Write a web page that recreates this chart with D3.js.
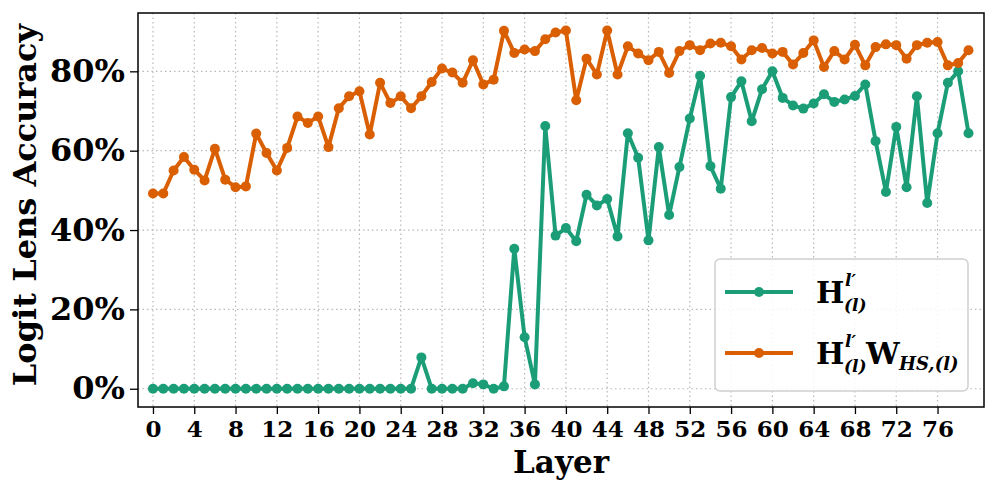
<!DOCTYPE html>
<html>
<head>
<meta charset="utf-8">
<script src="https://cdn.jsdelivr.net/npm/d3@7"></script>
<style>
  html, body { margin: 0; padding: 0; background: #fff; }
  svg text { font-family: "DejaVu Serif", serif; font-weight: bold; }
</style>
</head>
<body>
<svg id="chart" width="997" height="493"></svg>
<script>
// ---- data ----
const layers = d3.range(0, 80);
const xTickValues = [0, 4, 8, 12, 16, 20, 24, 28, 32, 36, 40, 44, 48, 52, 56, 60, 64, 68, 72, 76];
const yTickValues = [0, 20, 40, 60, 80];

const accH = [
  0, 0, 0, 0, 0, 0, 0, 0, 0, 0,
  0, 0, 0, 0, 0, 0, 0, 0, 0, 0,
  0, 0, 0, 0, 0, 0, 7.9, 0, 0, 0,
  0, 1.4, 1.1, 0, 0.6, 35.3, 13.0, 1.1, 66.2, 38.6,
  40.5, 37.2, 48.9, 46.2, 47.8, 38.4, 64.4, 58.2, 37.4, 60.9,
  43.8, 55.9, 68.1, 78.9, 56.1, 50.4, 73.5, 77.5, 67.4, 75.5,
  80.0, 73.3, 71.4, 70.6, 71.9, 74.2, 72.3, 72.9, 73.8, 76.7,
  62.4, 49.6, 66.0, 50.8, 73.7, 46.8, 64.4, 77.1, 80.0, 64.4
];
const accHW = [
  49.2, 49.2, 55.0, 58.4, 55.2, 52.5, 60.5, 52.7, 50.8, 51.0,
  64.3, 59.4, 55.0, 60.7, 68.6, 67.0, 68.6, 60.9, 70.7, 73.7,
  75.0, 64.1, 77.1, 72.0, 73.7, 70.7, 73.7, 77.3, 80.7, 79.7,
  77.1, 82.8, 76.7, 77.9, 90.2, 84.6, 85.5, 85.1, 88.1, 89.8,
  90.3, 72.7, 83.2, 79.2, 90.3, 79.2, 86.3, 84.5, 82.8, 84.9,
  79.6, 85.1, 86.6, 85.3, 87.0, 87.2, 86.3, 83.0, 85.3, 85.9,
  84.5, 84.9, 81.7, 84.6, 87.8, 81.1, 85.1, 83.0, 86.7, 81.5,
  86.1, 86.8, 86.6, 83.2, 86.6, 87.2, 87.4, 81.5, 82.1, 85.3
];
const colorH = "#1b9e77";
const colorHW = "#d95f02";

// ---- layout ----
const svg = d3.select("#chart");
const L = 138, R = 984, T = 13, B = 407;

const x = d3.scaleLinear().domain([-1.45, 80.5]).range([L, R]);
const y = d3.scaleLinear().domain([-4.6, 94.7]).range([B, T]);

// grid
const grid = svg.append("g");
grid.selectAll("line.vx").data(xTickValues).join("line")
  .attr("x1", d => x(d)).attr("x2", d => x(d)).attr("y1", T).attr("y2", B)
  .attr("stroke", "#b8b8b8").attr("stroke-width", 1.2).attr("stroke-dasharray", "1.5,3");
grid.selectAll("line.hy").data(yTickValues).join("line")
  .attr("y1", d => y(d)).attr("y2", d => y(d)).attr("x1", L).attr("x2", R)
  .attr("stroke", "#b8b8b8").attr("stroke-width", 1.2).attr("stroke-dasharray", "1.5,3");

// axes
const xAxis = d3.axisBottom(x).tickValues(xTickValues).tickSize(7).tickPadding(7).tickFormat(d3.format("d"));
const gx = svg.append("g").attr("transform", `translate(0,${B})`).call(xAxis);
gx.select(".domain").remove();
gx.selectAll(".tick line").attr("stroke", "#000").attr("stroke-width", 1.3);
gx.selectAll(".tick text").attr("font-size", 23).attr("fill", "#000")
  .attr("font-family", "DejaVu Serif").attr("font-weight", "bold");

const yAxis = d3.axisLeft(y).tickValues(yTickValues).tickSize(8).tickPadding(5).tickFormat(d => d + "%");
const gy = svg.append("g").attr("transform", `translate(${L},0)`).call(yAxis);
gy.select(".domain").remove();
gy.selectAll(".tick line").attr("stroke", "#000").attr("stroke-width", 1.3);
gy.selectAll(".tick text").attr("font-size", 32).attr("fill", "#000")
  .attr("font-family", "DejaVu Serif").attr("font-weight", "bold");

// series
const line = d3.line().x((d, i) => x(layers[i])).y(d => y(d));
function drawSeries(vals, color) {
  const g = svg.append("g");
  g.append("path").datum(vals).attr("d", line)
    .attr("fill", "none").attr("stroke", color).attr("stroke-width", 4)
    .attr("stroke-linejoin", "round");
  g.selectAll("circle").data(vals).join("circle")
    .attr("cx", (d, i) => x(layers[i])).attr("cy", d => y(d)).attr("r", 5)
    .attr("fill", color);
}
drawSeries(accH, colorH);
drawSeries(accHW, colorHW);

// frame
svg.append("rect").attr("x", L).attr("y", T).attr("width", R - L).attr("height", B - T)
  .attr("fill", "none").attr("stroke", "#000").attr("stroke-width", 1.5);

// axis labels
svg.append("text").attr("x", (L + R) / 2).attr("y", 473).attr("text-anchor", "middle")
  .attr("font-size", 31).attr("fill", "#000").text("Layer");
svg.append("text").attr("transform", `translate(36,205) rotate(-90)`)
  .attr("text-anchor", "middle").attr("font-size", 32).attr("fill", "#000").text("Logit Lens Accuracy");

// legend
const lg = svg.append("g");
lg.append("rect").attr("x", 715).attr("y", 259).attr("width", 253).attr("height", 132)
  .attr("rx", 5).attr("fill", "#fff").attr("fill-opacity", 0.85)
  .attr("stroke", "#d0d0d0").attr("stroke-width", 1.5);
const legendItems = [
  { color: colorH, yl: 292, base: 303 },
  { color: colorHW, yl: 353, base: 364 }
];
legendItems.forEach(it => {
  lg.append("line").attr("x1", 725).attr("x2", 793).attr("y1", it.yl).attr("y2", it.yl)
    .attr("stroke", it.color).attr("stroke-width", 4);
  lg.append("circle").attr("cx", 759).attr("cy", it.yl).attr("r", 5).attr("fill", it.color);
  lg.append("text").attr("x", 816).attr("y", it.base).attr("font-size", 30).attr("fill", "#000").text("H");
  lg.append("text").attr("x", 845).attr("y", it.base - 17).attr("font-size", 17)
    .attr("font-style", "italic").attr("fill", "#000").text("l′");
  lg.append("text").attr("x", 844).attr("y", it.base + 8).attr("font-size", 17)
    .attr("font-style", "italic").attr("fill", "#000").text("(l)");
});
lg.append("text").attr("x", 866).attr("y", 364).attr("font-size", 30).attr("fill", "#000").text("W");
lg.append("text").attr("x", 899).attr("y", 370).attr("font-size", 18)
  .attr("font-style", "italic").attr("fill", "#000").text("HS,(l)");
</script>
</body>
</html>
